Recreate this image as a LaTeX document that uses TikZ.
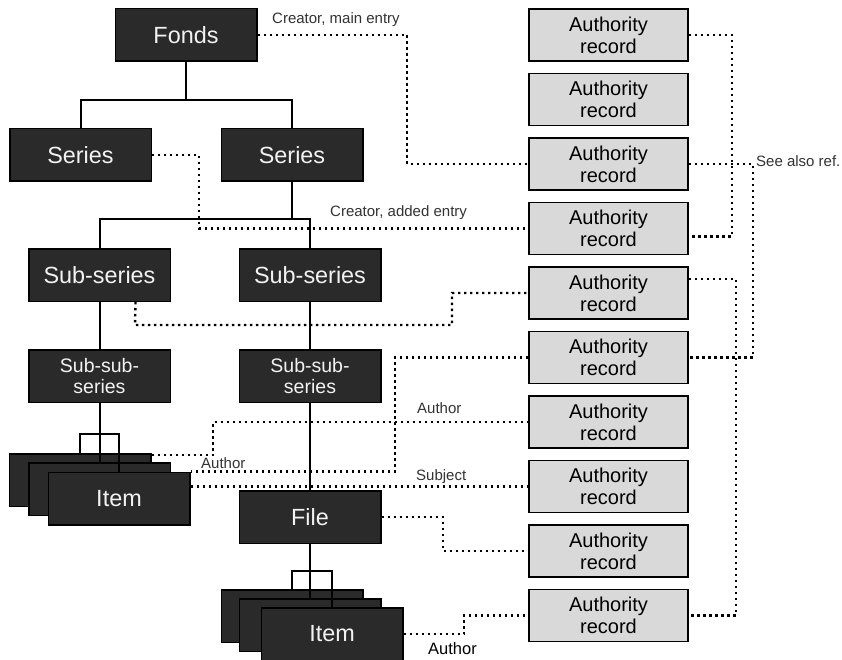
\documentclass[tikz,border=0pt]{standalone}
\usepackage{fontspec}
\setmainfont{Liberation Sans}
\usetikzlibrary{calc}
\definecolor{boxdark}{HTML}{2A2A2A}
\definecolor{boxlight}{HTML}{D9D9D9}
\definecolor{labelgray}{HTML}{333333}
\tikzset{
 dark/.style={draw=black, line width=1.5pt, fill=boxdark, text=white!95!black, minimum width=141.5pt, minimum height=52.5pt, inner sep=0pt, font=\fontsize{23.4}{26}\selectfont, align=center},
 darksmall/.style={dark, font=\fontsize{19.5}{21.5}\selectfont},
 auth/.style={draw=black, line width=1.8pt, fill=boxlight, minimum width=159pt, minimum height=52pt, inner sep=0pt, font=\fontsize{20}{22}\selectfont, align=center},
 tree/.style={line width=2pt, black},
 ref/.style={line width=2.4pt, dash pattern=on 2.4pt off 3.6pt, color=black},
 lbl/.style={font=\fontsize{15}{17}\selectfont, text=labelgray, inner sep=0pt, anchor=base west},
}
\begin{document}
\begin{tikzpicture}[x=1pt,y=-1pt]
\fill[white] (0,0) rectangle (842,660);
\useasboundingbox (0,0) rectangle (842,660);

% hierarchy
\node[dark] (fonds) at (186,35) {Fonds};
\node[dark] (seriesL) at (80.5,155) {Series};
\node[dark] (seriesR) at (292,155) {Series};
\node[dark] (subL) at (99.5,275) {Sub-series};
\node[dark] (subR) at (310,275) {Sub-series};
\node[darksmall] (subsubL) at (99.5,376) {Sub-sub-\\series};
\node[darksmall] (subsubR) at (310,376) {Sub-sub-\\series};
\node[dark] (itemLa) at (80,480) {};
\node[dark] (itemLb) at (99.5,489) {};
\node[dark] (itemLc) at (119,498.5) {Item};
\node[dark] (file) at (310,517) {File};
\node[dark] (itemBa) at (292,616) {};
\node[dark] (itemBb) at (310,625) {};
\node[dark] (itemBc) at (332,634) {Item};

% authority records
\foreach \i in {1,...,10}{
  \node[auth] (ar\i) at (608.5,{35+(\i-1)*64.5}) {Authority\\record};
}

% tree lines
\draw[tree] (fonds.south) -- (fonds.south |- 0,100);
\draw[tree] (seriesL.north) -- (seriesL.north |- 0,100) -- (seriesR.north |- 0,100) -- (seriesR.north);
\draw[tree] (seriesR.south) -- (seriesR.south |- 0,219);
\draw[tree] (subL.north) -- (subL.north |- 0,219) -- (subR.north |- 0,219) -- (subR.north);
\draw[tree] (subL.south) -- (subsubL.north);
\draw[tree] (subR.south) -- (subsubR.north);
\draw[tree] (subsubL.south) -- (itemLb.north);
\draw[tree] (itemLa.north) -- (itemLa.north |- 0,434) -- (itemLc.north |- 0,434) -- (itemLc.north);
\draw[tree] (subsubR.south) -- (file.north);
\draw[tree] (file.south) -- (itemBb.north);
\draw[tree] (itemBa.north) -- (itemBa.north |- 0,571) -- (itemBc.north |- 0,571) -- (itemBc.north);

% dotted reference lines
\draw[ref] (fonds.east) -- (407,35) |- (ar3.west);
\draw[ref] (ar1.east) -- (732,35) |- ([yshift=-8pt]ar4.east);
\draw[ref] (ar3.east) -- (753,164) |- (ar6.east);
\draw[ref] ([yshift=14pt]ar5.east) -- (736,279) |- (ar10.east);
\draw[ref] (seriesL.east) -- (199,155) |- (ar4.west);
\draw[ref] ([xshift=36pt]subL.south) -- (135,325) -- (452,325) |- (ar5.west);
\draw[ref] ([yshift=-2pt]itemLa.north east) -- (213,455) |- (ar7.west);
\draw[ref] (ar6.west) -- (395,357.5) |- (itemLc.north east);
\draw[ref] (itemLc.east |- ar8.west) -- (ar8.west);
\draw[ref] (file.east) -- (443,517) |- (ar9.west);
\draw[ref] (itemBc.east) -- (464,634) |- (ar10.west);

% labels
\node[lbl] (l1) at (272,24) {Creator, main entry};
\node[lbl] (l2) at (330,216) {Creator, added entry};
\node[lbl] (l3) at (756,167) {See also ref.};
\node[lbl] (l4) at (417,413) {Author};
\node[lbl] (l5) at (201,468) {Author};
\node[lbl] (l6) at (416,480) {Subject};
\node[lbl, font=\fontsize{16.5}{18}\selectfont, text=black] (l7) at (428,654) {Author};
\end{tikzpicture}
\end{document}
